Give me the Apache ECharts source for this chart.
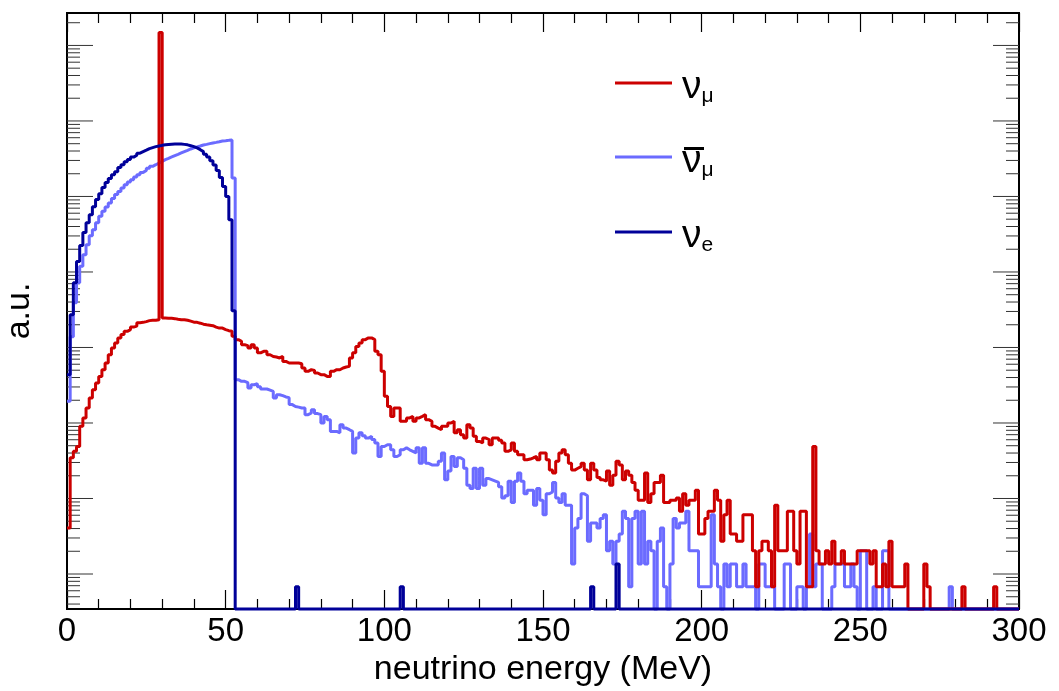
<!DOCTYPE html>
<html>
<head>
<meta charset="utf-8">
<title>Neutrino energy spectra</title>
<script src="https://cdn.jsdelivr.net/npm/echarts@6/dist/echarts.min.js"></script>
<style>
  html, body { margin: 0; padding: 0; background: #fff; }
  #chart { width: 1059px; height: 691px; }
</style>
</head>
<body>
<div id="chart"></div>
<script>
// 1 MeV bins, 0 - 300 MeV
const binWidth = 1;
const energyMin = 0;
const energyMax = 300;

// events per bin, nu_mu (pi decay at rest line in bin 29)
const nuMuCounts = [
  6, 51, 62, 72, 133, 172, 233, 316, 407, 499,
  610, 748, 918, 1180, 1450, 1690, 1970, 2180, 2410, 2540,
  2740, 2820, 3140, 3170, 3240, 3340, 3370, 3380, 3440, 21800000,
  3620, 3600, 3580, 3550, 3490, 3440, 3440, 3380, 3290, 3190,
  3170, 3090, 3000, 2950, 2910, 2860, 2740, 2660, 2660, 2540,
  2460, 2410, 2070, 1870, 1780, 1600, 1560, 1450, 1600, 1450,
  1250, 1310, 1310, 1180, 1120, 1100, 1070, 1120, 964, 918,
  918, 918, 918, 899, 788, 711, 748, 733, 677, 643,
  643, 610, 610, 711, 748, 748, 788, 813, 828, 1070,
  1250, 1520, 1690, 1870, 1970, 1970, 1870, 1310, 1180, 711,
  332, 244, 180, 233, 233, 155, 155, 172, 180, 155,
  172, 180, 190, 163, 155, 133, 126, 120, 133, 133,
  147, 155, 109, 120, 103, 93, 140, 126, 98, 84,
  80, 93, 89, 76, 93, 93, 87, 80, 62, 65,
  80, 62, 56, 56, 48, 49, 51, 53, 48, 59,
  59, 48, 35, 32, 46, 59, 65, 56, 43, 35,
  37, 39, 43, 35, 26, 43, 35, 28, 26, 25,
  34, 22, 30, 46, 41, 26, 34, 30, 24, 19,
  14, 14, 32, 13, 17, 24, 24, 30, 13, 13,
  14, 14, 15, 10, 17, 12, 14, 14, 19, 5,
  5, 8, 10, 10, 19, 14, 4, 9, 14, 5,
  5, 4, 4, 9, 9, 9, 3, 1, 3, 4,
  4, 3, 1, 12, 3, 3, 3, 10, 10, 3,
  2, 10, 10, 1, 1, 72, 3, 2, 2, 3,
  2, 4, 2, 2, 3, 2, 2, 2, 2, 3,
  3, 3, 3, 2, 3, 1, 1, 2, 1, 4,
  1, 1, 1, 1, 2, 0, 0, 0, 0, 0,
  2, 1, 0, 0, 0, 0, 0, 0, 0, 0,
  0, 0, 1, 0, 0, 0, 0, 0, 0, 0,
  0, 0, 1, 0, 0, 0, 0, 0, 0, 0
];

// events per bin, anti nu_mu
const nuMuBarCounts = [
  285, 2050, 5780, 10600, 17500, 24900, 33900, 44600, 53500, 66200,
  80300, 93500, 107000, 121000, 138000, 156000, 172000, 191000, 211000, 229000,
  246000, 267000, 286000, 307000, 326000, 347000, 369000, 388000, 409000, 430000,
  453000, 471000, 491000, 512000, 532000, 555000, 578000, 601000, 627000, 647000,
  667000, 687000, 708000, 721000, 737000, 753000, 767000, 783000, 800000, 807000,
  815000, 824000, 259000, 552, 524, 524, 504, 428, 473, 488,
  446, 415, 415, 401, 386, 316, 349, 339, 326, 319,
  258, 244, 239, 233, 233, 190, 200, 221, 196, 190,
  147, 180, 163, 114, 114, 109, 140, 126, 120, 114,
  59, 93, 109, 100, 93, 98, 89, 80, 53, 72,
  76, 76, 65, 53, 56, 65, 69, 65, 62, 59,
  69, 43, 69, 43, 41, 41, 41, 46, 59, 26,
  34, 53, 39, 51, 48, 37, 22, 20, 37, 20,
  37, 22, 27, 26, 25, 24, 21, 15, 16, 25,
  13, 25, 32, 25, 17, 19, 19, 12, 20, 14,
  9, 17, 18, 24, 15, 13, 17, 12, 12, 2,
  6, 8, 17, 16, 4, 7, 7, 6, 8, 9,
  3, 4, 2, 4, 5, 10, 8, 1, 8, 10,
  2, 10, 2, 4, 3, 0, 4, 6, 1, 0,
  2, 8, 6, 7, 7, 10, 3, 3, 3, 1,
  1, 1, 1, 9, 2, 1, 0, 2, 1, 2,
  2, 1, 1, 2, 1, 1, 1, 0, 2, 2,
  1, 1, 1, 0, 0, 0, 2, 2, 0, 0,
  1, 1, 0, 1, 5, 1, 2, 2, 0, 0,
  0, 1, 2, 2, 2, 1, 1, 2, 1, 0,
  3, 3, 0, 0, 1, 0, 0, 3, 3, 0,
  0, 0, 0, 0, 0, 0, 0, 0, 0, 0,
  0, 0, 0, 0, 0, 0, 0, 0, 1, 0,
  0, 0, 0, 0, 0, 0, 0, 0, 0, 0,
  0, 0, 0, 0, 0, 0, 0, 0, 0, 0
];

// events per bin, nu_e
const nuECounts = [
  643, 4010, 10600, 20200, 32900, 48900, 66300, 84600, 108000, 134000,
  160000, 193000, 225000, 254000, 286000, 314000, 355000, 388000, 426000, 453000,
  489000, 519000, 552000, 578000, 604000, 633000, 653000, 673000, 687000, 700000,
  711000, 720000, 726000, 731000, 731000, 728000, 721000, 711000, 693000, 673000,
  647000, 614000, 578000, 535000, 489000, 439000, 383000, 324000, 262000, 199000,
  147000, 72600, 4530, 0, 0, 0, 0, 0, 0, 0,
  0, 0, 0, 0, 0, 0, 0, 0, 0, 0,
  0, 0, 1, 0, 0, 0, 0, 0, 0, 0,
  0, 0, 0, 0, 0, 0, 0, 0, 0, 0,
  0, 0, 0, 0, 0, 0, 0, 0, 0, 0,
  0, 0, 0, 0, 0, 1, 0, 0, 0, 0,
  0, 0, 0, 0, 0, 0, 0, 0, 0, 0,
  0, 0, 0, 0, 0, 0, 0, 0, 0, 0,
  0, 0, 0, 0, 0, 0, 0, 0, 0, 0,
  0, 0, 0, 0, 0, 0, 0, 0, 0, 0,
  0, 0, 0, 0, 0, 0, 0, 0, 0, 0,
  0, 0, 0, 0, 0, 1, 0, 0, 0, 0,
  0, 0, 0, 2, 0, 0, 0, 0, 0, 0,
  0, 0, 0, 0, 0, 0, 0, 0, 0, 0,
  0, 0, 0, 0, 0, 0, 0, 0, 0, 0,
  0, 0, 0, 0, 0, 0, 0, 0, 0, 0,
  0, 0, 0, 0, 0, 0, 0, 0, 0, 0,
  0, 0, 0, 0, 0, 0, 0, 0, 0, 0,
  0, 0, 0, 0, 0, 0, 0, 0, 0, 0,
  0, 0, 0, 0, 0, 0, 0, 0, 0, 0,
  0, 0, 0, 0, 0, 0, 0, 0, 0, 0,
  0, 0, 0, 0, 0, 0, 0, 0, 0, 0,
  0, 0, 0, 0, 0, 0, 0, 0, 0, 0,
  0, 0, 0, 0, 0, 0, 0, 0, 0, 0,
  0, 0, 0, 0, 0, 0, 0, 0, 0, 0
];

// legend text: symbol + subscript, and which entry is an antiparticle
const legendMain = ['ν', 'ν', 'ν'];
const legendSub = ['μ', 'μ', 'e'];
const legendBar = [false, true, false];
const seriesNames = ['nu_mu', 'anti_nu_mu', 'nu_e'];
const seriesColors = ['#cc0000', '#6b6bff', '#000099'];

// arbitrary units per event, and y range of the frame
const auPerEvent = 0.679;
const yMin = 0.344;
const yMax = 2.69e7;

const FONT = '"Liberation Sans", Arial, Helvetica, sans-serif';

function stepData(counts) {
    // empty bins sit on the bottom of the frame like ROOT does on log scale
    const pts = counts.map((c, i) => [energyMin + i * binWidth, c > 0 ? c * auPerEvent : yMin]);
    pts.push([energyMin + counts.length * binWidth, pts[pts.length - 1][1]]);
    return pts;
}

// log axis ticks 1..9 x 10^n, drawn on both sides of the frame
const yTicks = [];
for (let p = -1; p <= 7; p++) {
    for (let k = 1; k <= 9; k++) {
        const v = k * Math.pow(10, p);
        if (v > yMin && v < yMax) yTicks.push([energyMin, v, k === 1 ? 1 : 0]);
    }
}

const chart = echarts.init(document.getElementById('chart'));

function histSeries(idx, counts, z) {
    return {
        name: seriesNames[idx],
        type: 'line',
        step: 'end',
        data: stepData(counts),
        symbol: 'none',
        showSymbol: false,
        clip: false,
        z: z,
        color: seriesColors[idx],
        itemStyle: { color: seriesColors[idx] },
        lineStyle: { color: seriesColors[idx], width: 3 }
    };
}

// legend rows (y of the line sample) and where the label starts
const legendLineY = [80, 154, 229];
const legendLeft = 615;
const legendTextX = 683;

const option = {
    animation: false,
    backgroundColor: '#fff',
    grid: {
        left: 67, right: 40, top: 13, bottom: 82,
        containLabel: false,
        outerBoundsMode: 'none',
        show: true, borderColor: '#000', borderWidth: 2
    },
    legend: seriesNames.map((name, i) => ({
        data: [name],
        left: legendLeft,
        top: legendLineY[i] - 12,
        padding: 0,
        itemWidth: 57,
        itemHeight: 3,
        icon: 'rect',
        selectedMode: false,
        formatter: () => `{nu|${legendMain[i]}}{sub|${legendSub[i]}}`,
        textStyle: {
            padding: [8, 0, 0, 5],
            rich: {
                nu: { fontSize: 39, lineHeight: 40, verticalAlign: 'bottom', color: '#000', fontFamily: FONT },
                sub: { fontSize: 21, lineHeight: 16, verticalAlign: 'bottom', color: '#000', fontFamily: FONT }
            }
        }
    })),
    // overbar of the antineutrino symbol
    graphic: legendBar.map((b, i) => b ? {
        type: 'rect',
        left: legendTextX + 1,
        top: legendLineY[i] - 7,
        shape: { width: 20, height: 3 },
        style: { fill: '#000' },
        silent: true
    } : null).filter(g => g),
    xAxis: [
        {
            type: 'value', position: 'bottom',
            min: energyMin, max: energyMax, interval: 50,
            name: 'neutrino energy (MeV)',
            nameLocation: 'middle',
            nameGap: 40,
            nameTextStyle: { fontSize: 34, color: '#000', fontFamily: FONT },
            axisLine: { show: false },
            splitLine: { show: false },
            axisTick: { inside: true, length: 19, lineStyle: { color: '#000', width: 1.2 } },
            minorTick: { show: true, splitNumber: 5, length: 10, lineStyle: { color: '#000', width: 1.2 } },
            axisLabel: { fontSize: 33, color: '#000', margin: 6, fontFamily: FONT }
        },
        {
            type: 'value', position: 'top',
            min: energyMin, max: energyMax, interval: 50,
            axisLine: { show: false },
            splitLine: { show: false },
            axisTick: { inside: true, length: 19, lineStyle: { color: '#000', width: 1.2 } },
            minorTick: { show: true, splitNumber: 5, length: 10, lineStyle: { color: '#000', width: 1.2 } },
            axisLabel: { show: false }
        }
    ],
    yAxis: {
        type: 'log', logBase: 10,
        min: yMin, max: yMax,
        name: 'a.u.',
        nameLocation: 'middle',
        nameRotate: 90,
        nameGap: 30,
        nameTextStyle: { fontSize: 34, color: '#000', fontFamily: FONT },
        axisLine: { show: false },
        axisTick: { show: false },
        axisLabel: { show: false },
        splitLine: { show: false }
    },
    series: [
        histSeries(1, nuMuBarCounts, 2),
        histSeries(0, nuMuCounts, 3),
        histSeries(2, nuECounts, 4),
        {
            type: 'custom',
            silent: true,
            z: 1,
            data: yTicks,
            encode: { x: 0, y: 1 },
            renderItem: (params, api) => {
                const y = api.coord([api.value(0), api.value(1)])[1];
                const cs = params.coordSys;
                const len = api.value(2) ? 26 : 13;
                const style = { stroke: '#333', lineWidth: 1 };
                return {
                    type: 'group',
                    children: [
                        { type: 'line', shape: { x1: cs.x, y1: y, x2: cs.x + len, y2: y }, style: style },
                        { type: 'line', shape: { x1: cs.x + cs.width, y1: y, x2: cs.x + cs.width - len, y2: y }, style: style }
                    ]
                };
            }
        }
    ]
};

chart.setOption(option);
window.addEventListener('resize', () => chart.resize());
</script>
</body>
</html>
